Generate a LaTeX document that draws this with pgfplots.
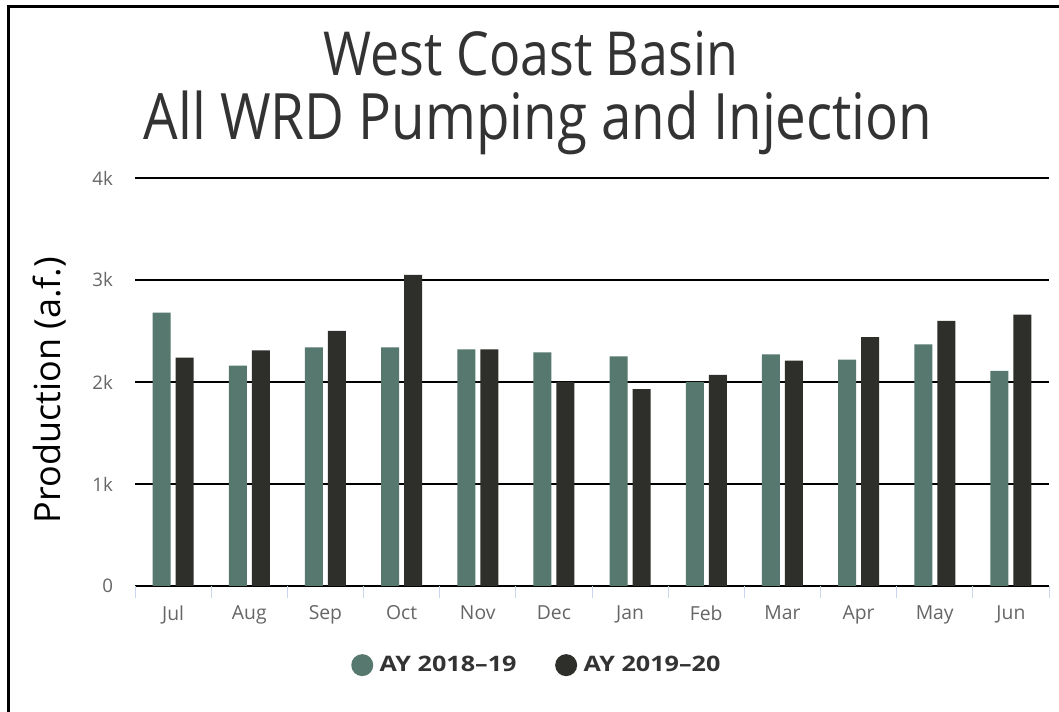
\documentclass[border=0pt]{standalone}
\usepackage{pgfplots}
\pgfplotsset{compat=1.18}
\usepackage{fontspec}
\setmainfont{Open Sans}
\newfontfamily\titlefont[FakeStretch=0.855]{Open Sans}
\newfontfamily\legfont[FakeStretch=1.18]{Open Sans}
\definecolor{colA}{RGB}{86,120,110}
\definecolor{colB}{RGB}{46,47,43}
\definecolor{txt}{RGB}{51,51,51}
\definecolor{tickc}{RGB}{102,102,102}
\definecolor{xtickc}{RGB}{204,214,235}
\begin{document}
\begin{tikzpicture}[x=0.75pt,y=0.75pt]
\path[use as bounding box] (0,0) rectangle (1059,712);
\fill[white] (0,0) rectangle (1059,712);
\draw[line width=2.4pt] (8.5,0) -- (8.5,705.5) -- (1059,705.5);
\node[font=\titlefont\fontsize{45.5}{54}\selectfont, text=txt, anchor=base] at (531,636) {West Coast Basin};
\node[font=\titlefont\fontsize{48}{54}\selectfont, text=txt, anchor=base] at (538,572) {All WRD Pumping and Injection};
\node[rotate=90, font=\fontsize{27}{30}\selectfont, anchor=center] at (50,322) {Production (a.f.)};
\begin{axis}[
  at={(135pt*0.75,126pt*0.75)}, anchor=south west,
  scale only axis, width=685.5pt, height=306pt,
  ymin=0, ymax=4000, xmin=-0.5, xmax=11.5,
  ytick={0,1000,2000,3000,4000}, yticklabels={0,1k,2k,3k,4k},
  xtick={0,...,11},
  xticklabels={Jul,Aug,Sep,Oct,Nov,Dec,Jan,Feb,Mar,Apr,May,Jun},
  minor xtick={-0.5,0.5,...,11.5},
  xtick pos=bottom, ytick pos=left,
  ymajorgrids, grid style={black, line width=1.5pt},
  axis line style={draw=none},
  major tick length=0pt, minor tick length=9pt, tick align=outside,
  minor tick style={xtickc, line width=0.75pt},
  xticklabel style={font=\fontsize{14.5}{16}\selectfont, text=tickc, yshift=-11pt},
  yticklabel style={font=\fontsize{14}{16}\selectfont, text=tickc, xshift=-13pt},
  ybar=3.75pt, bar width=13.5pt,
  clip=false,
  legend columns=2,
  legend style={at={(0.44,-0.194)}, anchor=center, draw=none, fill=none,
    font=\legfont\bfseries\fontsize{16}{18}\selectfont, text=txt,
    /tikz/every even column/.append style={column sep=27pt}},
]
\addplot[fill=colA, draw=none, legend image code/.code={\fill[colA] (0pt,0pt) circle (8.25pt); \path (-8.25pt,0pt) (11pt,0pt);}]
 coordinates {(0,2680) (1,2160) (2,2340) (3,2340) (4,2320) (5,2290) (6,2250) (7,2000) (8,2270) (9,2220) (10,2370) (11,2110)};
\addlegendentry{AY 2018–19}
\addplot[fill=colB, draw=none, legend image code/.code={\fill[colB] (0pt,0pt) circle (8.25pt); \path (-8.25pt,0pt) (11pt,0pt);}]
 coordinates {(0,2240) (1,2310) (2,2500) (3,3050) (4,2320) (5,2000) (6,1930) (7,2070) (8,2210) (9,2440) (10,2600) (11,2660)};
\addlegendentry{AY 2019–20}
\end{axis}
\end{tikzpicture}
\end{document}
